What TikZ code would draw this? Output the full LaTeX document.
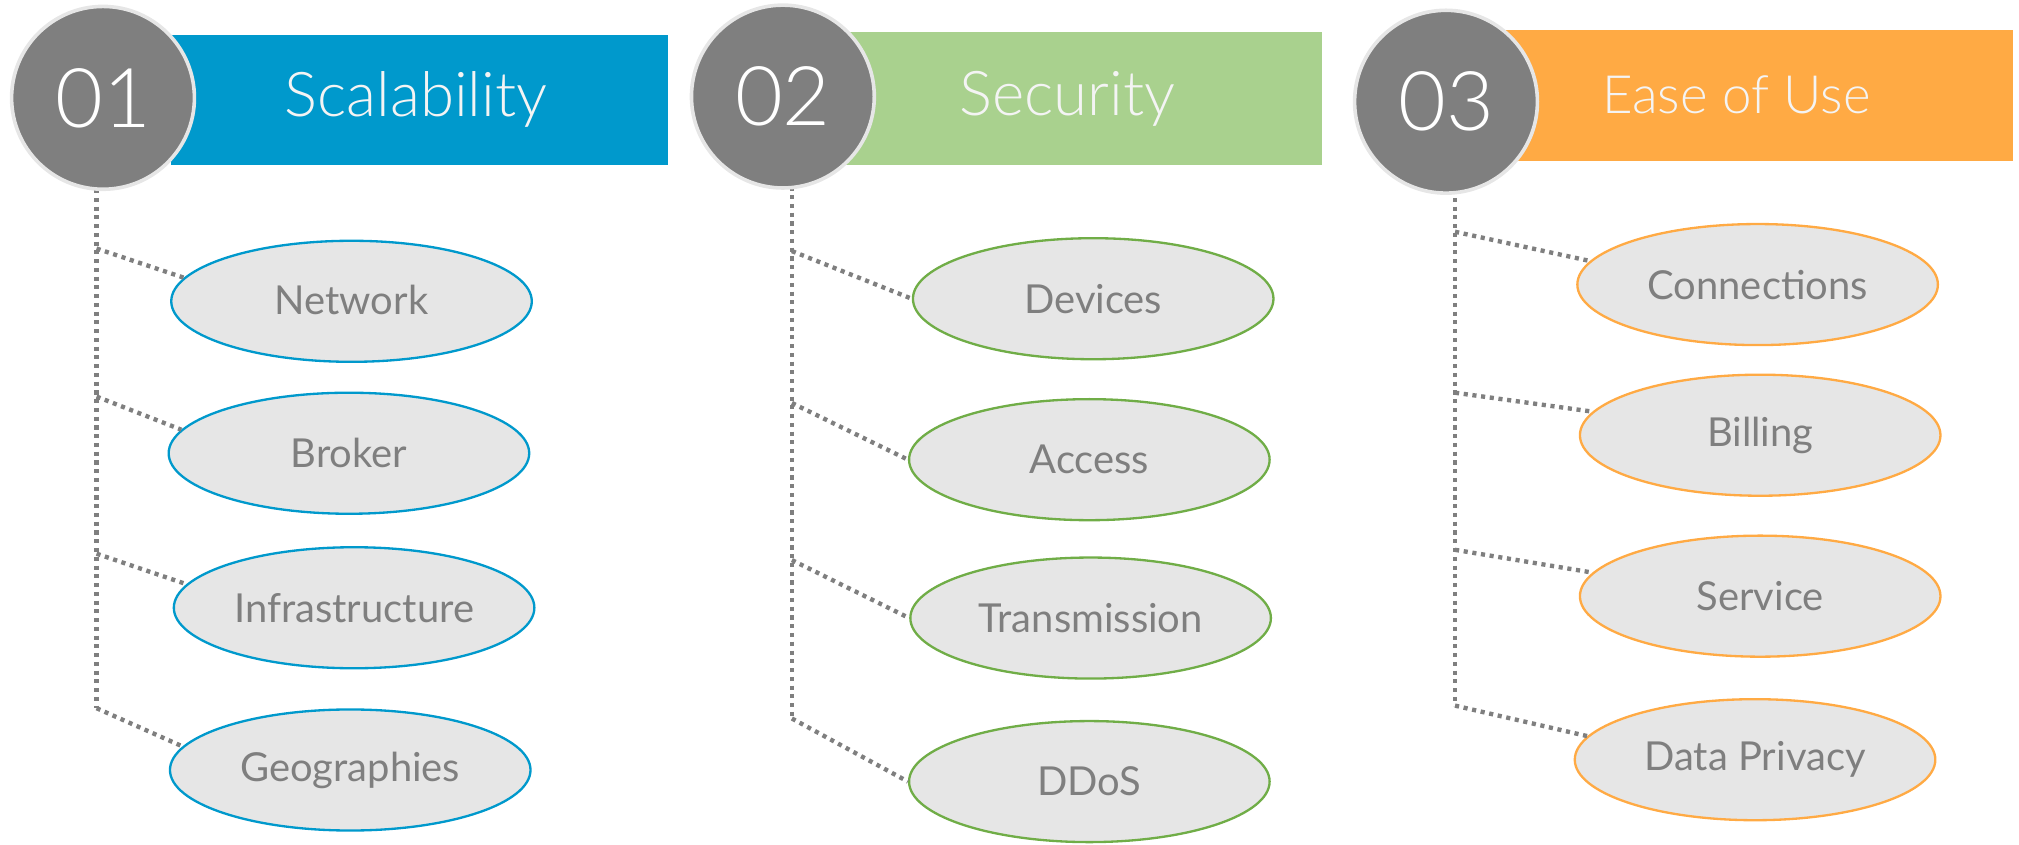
\documentclass[tikz,border=0pt]{standalone}
\usepackage{fontspec}
\setmainfont{Lato}
\newfontfamily\lightfont{Lato Light}
\usetikzlibrary{shapes.geometric}
\definecolor{ink}{HTML}{7F7F7F}
\definecolor{softgray}{HTML}{E6E6E6}
\definecolor{paper}{HTML}{F4F4F4}
\definecolor{blueA}{HTML}{0099CC}
\definecolor{greenA}{HTML}{A9D18E}
\definecolor{orangeA}{HTML}{FFAA44}
\definecolor{greenL}{HTML}{70AD47}
\begin{document}
\begin{tikzpicture}[x=0.5pt,y=-0.5pt,
  disc/.style={circle, fill=ink, draw=softgray, line width=1.4pt, minimum size=71pt,
    inner sep=0pt, text=white, font=\lightfont\fontsize{32}{32}\selectfont},
  bar/.style={fill=#1, inner sep=0pt, text=paper, font=\lightfont\fontsize{24}{24}\selectfont},
  item/.style={ellipse, draw=#1, fill=softgray, line width=0.9pt, minimum width=140pt,
    minimum height=47pt, inner sep=0pt, text=ink, font=\fontsize{15.5}{15.5}\selectfont},
  link/.style={draw=ink, line width=1.7pt, dash pattern=on 1.6pt off 1.8pt}
]
\useasboundingbox (0,0) rectangle (1568,656);

% ---- column 1: Scalability ----
\coordinate (r1) at (75,140);
\coordinate (v11) at (75,193);
\coordinate (v12) at (75,308);
\coordinate (v13) at (75,430);
\coordinate (v14) at (75,550);
\draw[link] (r1) -- (v14);
\node[bar=blueA, minimum width=193pt, minimum height=50.5pt] (b1) at (326,77.5) {\hspace*{-3pt}Scalability};
\node[disc] (c1) at (80,76) {01};
\node[item=blueA] (e11) at (273,234) {\raisebox{1.5pt}{Network}};
\node[item=blueA] (e12) at (271,352) {Broker};
\node[item=blueA] (e13) at (275,472) {Infrastructure};
\node[item=blueA] (e14) at (272,598) {Geographies};
\draw[link] (v11) -- (e11.172);
\draw[link] (v12) -- (e12.172);
\draw[link] (v13) -- (e13.172);
\draw[link] (v14) -- (e14.172);

% ---- column 2: Security ----
\coordinate (r2) at (615,138);
\coordinate (v21) at (615,195);
\coordinate (v22) at (615,313);
\coordinate (v23) at (615,435);
\coordinate (v24) at (615,558);
\draw[link] (r2) -- (v24);
\node[bar=greenA, minimum width=186pt, minimum height=51.5pt] (b2) at (841,76.5) {\hspace*{-12pt}Security};
\node[disc] (c2) at (608,75) {02};
\node[item=greenL] (e21) at (849,232) {Devices};
\node[item=greenL] (e22) at (846,357) {Access};
\node[item=greenL] (e23) at (847,480) {Transmission};
\node[item=greenL] (e24) at (846,607) {DDoS};
\draw[link] (v21) -- (e21.west);
\draw[link] (v22) -- (e22.west);
\draw[link] (v23) -- (e23.west);
\draw[link] (v24) -- (e24.west);

% ---- column 3: Ease of Use ----
\coordinate (r3) at (1130,140);
\coordinate (v31) at (1130,180);
\coordinate (v32) at (1130,305);
\coordinate (v33) at (1130,427);
\coordinate (v34) at (1130,548);
\draw[link] (r3) -- (v34);
\node[bar=orangeA, minimum width=201.5pt, minimum height=51pt,
  font=\lightfont\fontsize{20.5}{20.5}\selectfont] (b3) at (1361.5,74) {\hspace*{-13pt}Ease of Use};
\node[disc] (c3) at (1123,79) {03};
\node[item=orangeA] (e31) at (1365,221) {Connections};
\node[item=orangeA] (e32) at (1367,338) {Billing};
\node[item=orangeA] (e33) at (1367,463) {Service};
\node[item=orangeA] (e34) at (1363,590) {Data Privacy};
\draw[link] (v31) -- (e31.172);
\draw[link] (v32) -- (e32.172);
\draw[link] (v33) -- (e33.172);
\draw[link] (v34) -- (e34.172);
\end{tikzpicture}
\end{document}
